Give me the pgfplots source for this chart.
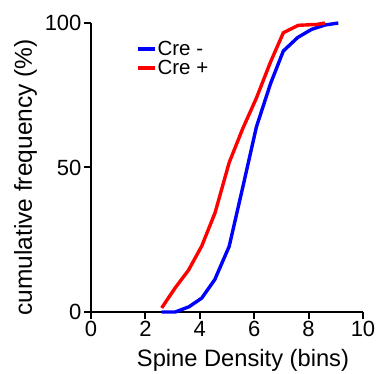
\documentclass[border=0pt]{standalone}
\usepackage{fontspec}
\setmainfont{Liberation Sans}
\usepackage{pgfplots}
\pgfplotsset{compat=1.18}
\definecolor{cblue}{RGB}{0,0,255}
\definecolor{cred}{RGB}{255,0,0}
\begin{document}
\begin{tikzpicture}
\begin{axis}[
  scale only axis,
  width=272pt, height=289pt,
  xmin=0, xmax=10, ymin=0, ymax=100,
  axis lines=left,
  axis line style={line width=2pt, -},
  every tick/.style={line width=2pt, black},
  tick align=outside,
  major tick length=7pt,
  xtick={0,2,4,6,8,10},
  ytick={0,50,100},
  /pgf/number format/assume math mode=true,
  tick label style={font=\fontsize{22}{24}\selectfont},
  xlabel={Spine Density (bins)},
  ylabel={cumulative frequency (\%)},
  xticklabel style={yshift=1pt},
  yticklabel style={xshift=1pt},
  xlabel style={font=\fontsize{23.7}{26}\selectfont, yshift=-5pt, xshift=16pt},
  ylabel style={font=\fontsize{24.5}{26}\selectfont, yshift=1pt, xshift=-10pt},
  clip=false,
  legend style={at={(axis cs:1.65,94)}, anchor=north west, draw=none, fill=none,
    font=\fontsize{20.5}{22}\selectfont, row sep=2pt, inner sep=0pt,
    nodes={inner sep=0.5pt}},
  legend cell align=left,
  legend image code/.code={\draw[#1, line width=4pt] (0pt,0pt) -- (17pt,0pt);},
]
\addplot[cblue, line width=3.4pt] coordinates {
 (2.6,0) (3.1,0) (3.6,1.8) (4.07,4.8) (4.55,11.2) (5.08,22.7) (5.6,44)
 (6.08,64) (6.6,79) (7.07,90.3) (7.6,95) (8.11,97.8) (8.6,99.3) (9.09,100)
};
\addlegendentry{Cre -}
\addplot[cred, line width=3.4pt] coordinates {
 (2.6,1.4) (3.09,8.3) (3.58,14.4) (4.07,22.8) (4.56,34.3) (5.08,51.7) (5.58,63.5)
 (6.08,74) (6.6,86.5) (7.07,96.6) (7.62,99.2) (8.3,99.5) (8.6,100)
};
\addlegendentry{Cre +}
\end{axis}
\pgfresetboundingbox
\path[use as bounding box] (-91pt,-62pt) rectangle (286pt,312pt);
\end{tikzpicture}
\end{document}
